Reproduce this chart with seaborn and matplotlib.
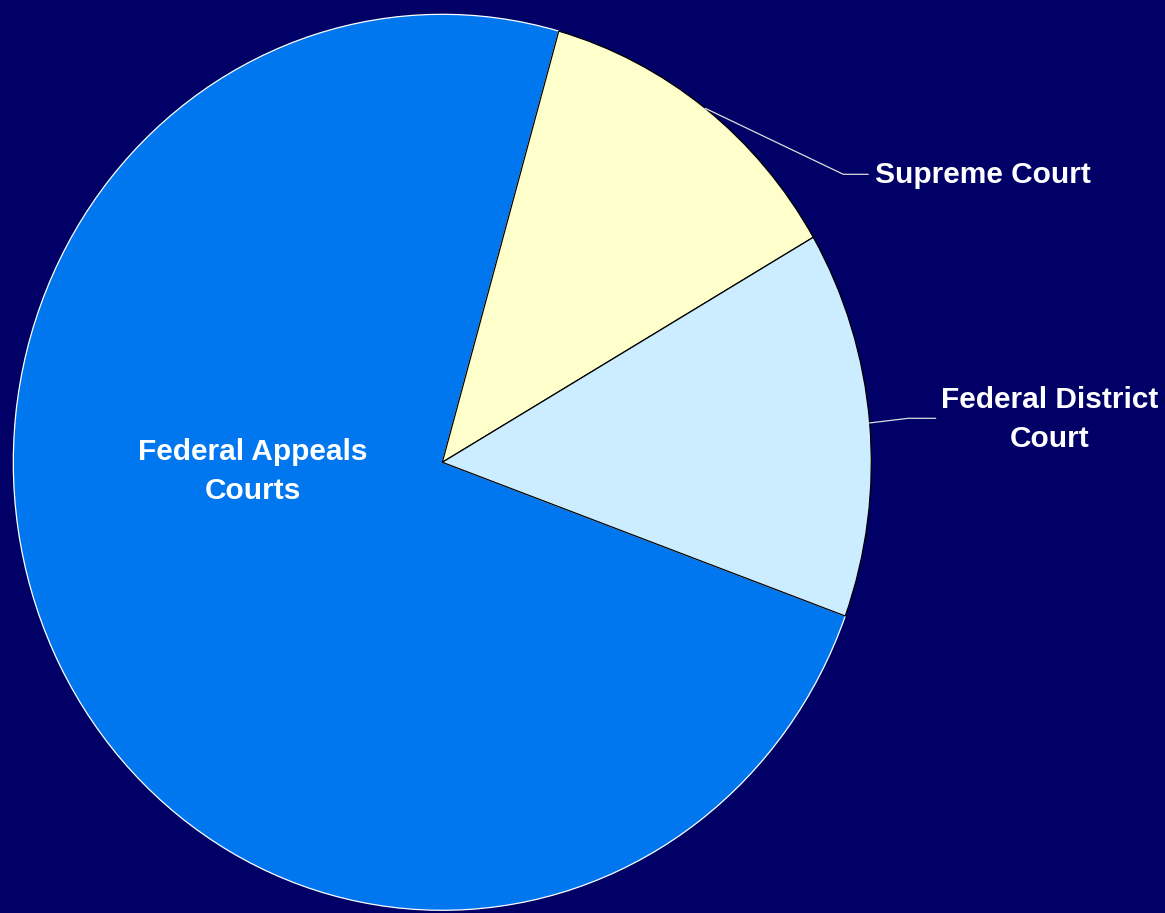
import numpy as np
import matplotlib
matplotlib.use("Agg")
import matplotlib.pyplot as plt
import seaborn as sns

# share of cases by court
courts = ["Federal Appeals\nCourts", "Supreme Court", "Federal District\nCourt"]
shares = [73.8, 12.25, 13.95]
colors = ["#0077EE", "#FFFFCC", "#CCECFF"]
edges = ["white", "black", "black"]

bg = "#000066"
sns.set_style("white", {"axes.facecolor": bg, "figure.facecolor": bg})
plt.rcParams["font.family"] = ["Liberation Sans", "DejaVu Sans"]

W, H = 1165, 913
fig = plt.figure(figsize=(W / 100, H / 100), dpi=100)
ax = fig.add_axes([0, 0, 1, 1])

# pie centre / radii in pixels (slightly squashed like the original)
cx, cy, rx, ry = 442.3, 462.3, 429.0, 448.0

def px(x, y):
    return (x - cx) / rx, (cy - y) / ry

start = -20.07
wedges, _ = ax.pie(shares, colors=colors, startangle=start, counterclock=False,
                   radius=1.0, center=(0, 0), frame=True,
                   wedgeprops=dict(linewidth=0.9))
for w, ec in zip(wedges, edges):
    w.set_edgecolor(ec)
ax.set_aspect("auto")
ax.set_xlim(-cx / rx, (W - cx) / rx)
ax.set_ylim(-(H - cy) / ry, cy / ry)
ax.axis("off")

def mid(w):
    a = np.deg2rad((w.theta1 + w.theta2) / 2)
    return np.cos(a), np.sin(a)

txt = dict(color="white", fontsize=21.5, fontweight="bold")

# Supreme Court label with leader
sx, sy = mid(wedges[1])
ex, ey = px(843.3, 174.3)
fx, fy = px(868.3, 174.3)
ax.plot([sx, ex, fx], [sy, ey, fy], color="#dddddd", lw=0.9)
tx, ty = px(875, 175)
ax.text(tx, ty, courts[1], ha="left", va="center", **txt)

# Federal District Court label with leader
dx, dy = mid(wedges[2])
ex, ey = px(908.3, 418.3)
fx, fy = px(935.7, 418.3)
ax.plot([dx, ex, fx], [dy, ey, fy], color="#dddddd", lw=0.9)
tx, ty = px(1050, 419)
ax.text(tx, ty, courts[2], ha="center", va="center", linespacing=1.5, **txt)

# Appeals label inside
tx, ty = px(253, 471)
ax.text(tx, ty, courts[0], ha="center", va="center", linespacing=1.5, **txt)

fig.savefig("out.png", dpi=100, facecolor=bg)
